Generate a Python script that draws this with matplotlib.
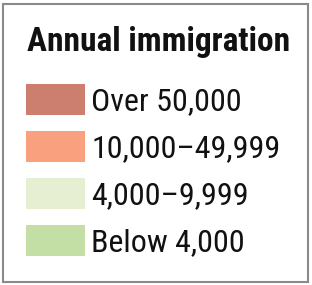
import matplotlib.pyplot as plt
import numpy as np

title = 'Annual immigration'
labels = ['Over 50,000', '10,000–49,999', '4,000–9,999', 'Below 4,000']
colors = ['#CC7E6F', '#F9A17F', '#E7EFD3', '#C3DFA5']

font = ['Roboto Condensed', 'DejaVu Sans']

fig = plt.figure(figsize=(3.12, 2.85), dpi=100)
ax = fig.add_axes([0, 0, 1, 1])
ax.set_xlim(0, 312)
ax.set_ylim(285, 0)
ax.axis('off')

# frame
ax.add_patch(plt.Rectangle((2.5, 3.5), 305, 278, fill=False, edgecolor='#8a8a8a', linewidth=1.5))

ax.text(159, 51, title, fontsize=24, fontweight='bold', family=font,
        ha='center', va='baseline', color='#111111')

y = 99.5 + 47 * np.arange(len(labels))
ax.barh(y, 59, left=26, height=31, color=colors, edgecolor='none')
for yi, lab in zip(y, labels):
    ax.text(91, yi + 11, lab, fontsize=23, family=font,
            ha='left', va='baseline', color='#111111')

fig.savefig('out.png', dpi=100)
